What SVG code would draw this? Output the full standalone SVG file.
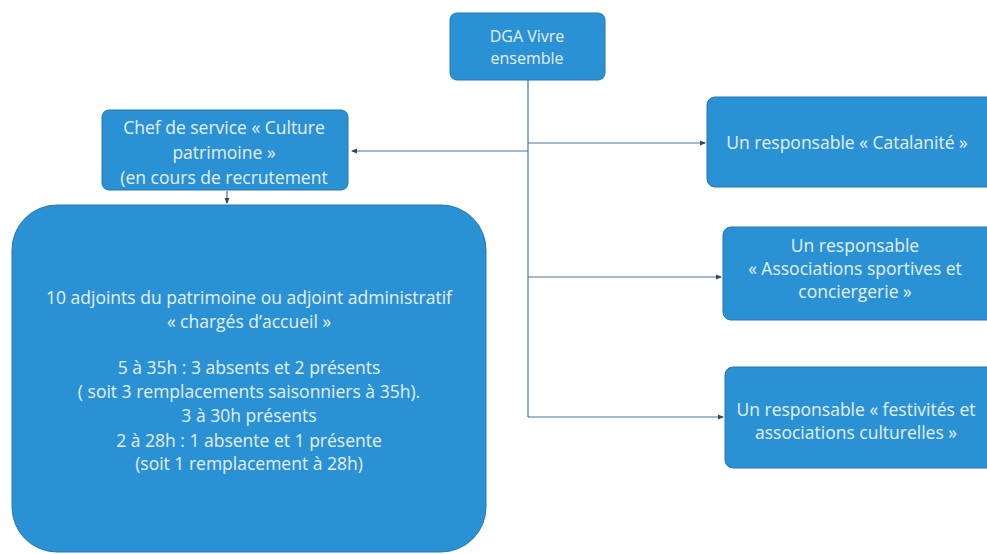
<svg xmlns="http://www.w3.org/2000/svg" width="987" height="554" viewBox="0 0 987 554">
<defs>
<style>
.box{fill:#2B91D5;stroke:#2478b3;stroke-width:1}
.t{font-family:"Open Sans","Liberation Sans",sans-serif;font-size:17.5px;fill:#e3f0fa;text-anchor:middle}
.c{fill:none;stroke:#4f7096;stroke-width:1.2}
</style>
<marker id="ah" viewBox="0 0 6 6" refX="5" refY="3" markerWidth="5" markerHeight="5" orient="auto-start-reverse">
<path d="M0,0.5 L6,3 L0,5.5 z" fill="#33475e"/>
</marker>
</defs>
<rect width="987" height="554" fill="#ffffff"/>
<g id="connectors">
<path class="c" d="M528,80 V417"/>
<path class="c" d="M528,151 H352" marker-end="url(#ah)"/>
<path class="c" d="M528,143 H705" marker-end="url(#ah)"/>
<path class="c" d="M528,277 H721" marker-end="url(#ah)"/>
<path class="c" d="M528,417 H723" marker-end="url(#ah)"/>
<path class="c" d="M227,191 V203" marker-end="url(#ah)"/>
</g>
<g id="dga">
<rect class="box" x="450" y="13" width="155" height="67" rx="7"/>
<text class="t" x="527" y="42" style="font-size:16px">DGA Vivre</text>
<text class="t" x="527" y="64" style="font-size:16px">ensemble</text>
</g>
<g id="chef">
<rect class="box" x="102" y="110" width="246" height="80" rx="7"/>
<text class="t" x="224" y="134">Chef de service « Culture</text>
<text class="t" x="224" y="159">patrimoine »</text>
<text class="t" x="224" y="184">(en cours de recrutement</text>
</g>
<g id="adjoints">
<rect class="box" x="12" y="205" width="474" height="347" rx="45"/>
<text class="t" x="249" y="304">10 adjoints du patrimoine ou adjoint administratif</text>
<text class="t" x="249" y="328">« chargés d’accueil »</text>
<text class="t" x="249" y="374">5 à 35h : 3 absents et 2 présents</text>
<text class="t" x="249" y="398">( soit 3 remplacements saisonniers à 35h).</text>
<text class="t" x="249" y="422">3 à 30h présents</text>
<text class="t" x="249" y="447">2 à 28h : 1 absente et 1 présente</text>
<text class="t" x="249" y="470">(soit 1 remplacement à 28h)</text>
</g>
<g id="catalanite">
<rect class="box" x="707" y="97" width="290" height="90" rx="8"/>
<text class="t" x="847" y="149">Un responsable « Catalanité »</text>
</g>
<g id="associations">
<rect class="box" x="723" y="227" width="274" height="93" rx="8"/>
<text class="t" x="855" y="252">Un responsable</text>
<text class="t" x="855" y="275">« Associations sportives et</text>
<text class="t" x="855" y="298">conciergerie »</text>
</g>
<g id="festivites">
<rect class="box" x="725" y="367" width="272" height="101" rx="8"/>
<text class="t" x="856" y="416">Un responsable « festivités et</text>
<text class="t" x="856" y="439">associations culturelles »</text>
</g>
</svg>
